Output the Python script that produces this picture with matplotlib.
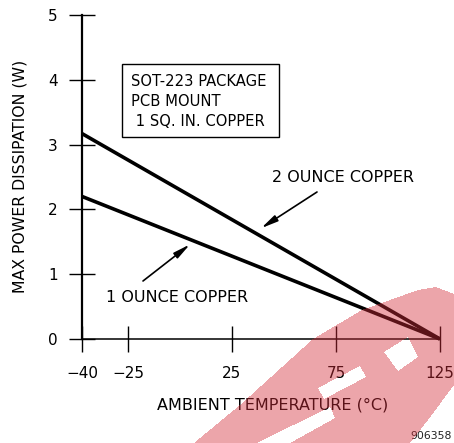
import numpy as np
import matplotlib
matplotlib.use('Agg')
import matplotlib.pyplot as plt
from matplotlib.path import Path
from matplotlib.patches import Rectangle

# derating curves: ambient temperature (C) vs max power dissipation (W)
temp = [-40, 125]
p_2oz = [3.17, 0.0]
p_1oz = [2.2, 0.0]
xticks = [-40, -25, 25, 75, 125]
xlabels = ['\u221240', '\u221225', '25', '75', '125']
yticks = [0, 1, 2, 3, 4, 5]

W, H = 454, 443
fig = plt.figure(figsize=(W / 100, H / 100), dpi=100)

def fp(x, y):
    # pixel position (from top-left) -> figure fraction
    return x / W, 1 - y / H

ax = fig.add_axes([82 / W, 1 - 339 / H, (440 - 82) / W, (339 - 15) / H])
ax.patch.set_alpha(0)

# the first interval (-40..-25) is stretched on this drawing
k = 1.474
def fwd(x):
    x = np.asarray(x, float)
    return np.where(x < -25, -25 + (x + 25) * k, x)
def inv(u):
    u = np.asarray(u, float)
    return np.where(u < -25, -25 + (u + 25) / k, u)
ax.set_xscale('function', functions=(fwd, inv))
ax.set_xlim(-40, 125)
ax.set_ylim(0, 5)

ax.plot(temp, p_2oz, color='black', lw=2.6, solid_capstyle='butt', clip_on=False)
ax.plot(temp, p_1oz, color='black', lw=2.6, solid_capstyle='butt', clip_on=False)

for s in ['top', 'right']:
    ax.spines[s].set_visible(False)
ax.spines['left'].set_linewidth(1.6)
ax.spines['bottom'].set_linewidth(1.1)

ax.set_xticks(xticks)
ax.set_xticklabels(xlabels)
ax.set_yticks(yticks)
ax.tick_params(direction='inout', length=19, width=1, labelsize=11)
ax.tick_params(axis='x', pad=10)
ax.tick_params(axis='y', pad=8)
ax.minorticks_off()

fig.text(*fp(20, 176), 'MAX POWER DISSIPATION (W)', rotation=90,
         ha='center', va='center', fontsize=11.3)
fig.text(*fp(273, 405), 'AMBIENT TEMPERATURE (\u00b0C)',
         ha='center', va='center', fontsize=11.5)

# info box
x0, y0 = fp(122, 137)
fig.add_artist(Rectangle((x0, y0), 157 / W, 73 / H, fill=False, lw=1,
                         edgecolor='black', transform=fig.transFigure))
box_lines = ['SOT-223 PACKAGE', 'PCB MOUNT', ' 1 SQ. IN. COPPER']
for i, t in enumerate(box_lines):
    fig.text(*fp(131, 82 + 20 * i), t, ha='left', va='center', fontsize=10.6)

# curve labels with arrows
fig.text(*fp(343, 178), '2 OUNCE COPPER', ha='center', va='center', fontsize=11.5)
fig.text(*fp(177, 298), '1 OUNCE COPPER', ha='center', va='center', fontsize=11.5)
arrow = dict(arrowstyle='-|>,head_length=1.0,head_width=0.2', lw=1.2,
             color='black', shrinkA=0, shrinkB=0)
ax.annotate('', xy=(39, 1.71), xycoords='data', xytext=fp(317, 192),
            textcoords='figure fraction', arrowprops=arrow)
ax.annotate('', xy=(4.8, 1.46), xycoords='data', xytext=fp(143, 281),
            textcoords='figure fraction', arrowprops=arrow)

fig.text(*fp(452, 436), '906358', ha='right', va='center', fontsize=7.8, color='#222222')

# red logo stamped over the lower right corner
outer = Path([(194, 443), (240, 405), (313, 339), (362, 310), (418, 290), (436, 287),
              (454, 294), (454, 385), (428, 420), (410, 443)])
holes = [Path([(384, 352), (408, 337), (418, 357), (398, 371)]),
         Path([(318, 388), (360, 366), (366, 377), (324, 399)]),
         Path([(257, 443), (330, 407), (335, 418), (290, 443)])]
gx, gy = np.meshgrid(np.arange(W) + 0.5, np.arange(H) + 0.5)
pts = np.column_stack([gx.ravel(), gy.ravel()])
mask = outer.contains_points(pts)
for h in holes:
    mask &= ~h.contains_points(pts)
rgba = np.zeros((H, W, 4))
rgba[..., 0] = 0.83
rgba[..., 1] = 0.18
rgba[..., 2] = 0.23
rgba[..., 3] = mask.reshape(H, W) * 0.43

ax_wm = fig.add_axes([0, 0, 1, 1], zorder=10)
ax_wm.imshow(rgba, extent=[0, W, H, 0], interpolation='bilinear')
ax_wm.set_xlim(0, W)
ax_wm.set_ylim(H, 0)
ax_wm.axis('off')

fig.savefig('out.png', dpi=100)
